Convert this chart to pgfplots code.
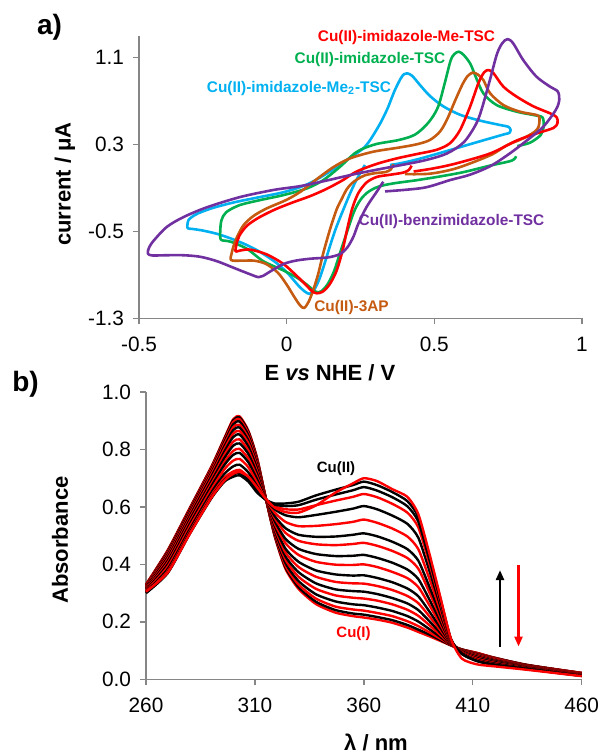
\documentclass[border=0pt]{standalone}
\usepackage{fontspec}
\setmainfont{Liberation Sans}
\usepackage{pgfplots}
\usepackage{pgfplotstable}
\pgfplotsset{compat=1.18}
\usetikzlibrary{arrows.meta}

\definecolor{cvred}{RGB}{255,0,0}
\definecolor{cvgreen}{RGB}{0,176,80}
\definecolor{cvblue}{RGB}{0,176,240}
\definecolor{cvpurple}{RGB}{112,48,160}
\definecolor{cvorange}{RGB}{197,90,17}
\definecolor{axisgray}{RGB}{134,134,134}

% UV-vis spectra recorded during the Cu(II) -> Cu(I) reduction
\pgfplotstableread{
lam a0 a1 a2 a3 a4 a5 a6 a7 a8 a9 a10 a11 a12 a13 a14 a15 a16 s
260 0.300 0.301 0.303 0.305 0.308 0.311 0.314 0.316 0.318 0.321 0.323 0.324 0.326 0.327 0.329 0.329 0.330 0.305
270 0.370 0.373 0.377 0.384 0.392 0.400 0.406 0.413 0.419 0.425 0.430 0.435 0.439 0.443 0.446 0.448 0.450 0.372
280 0.505 0.509 0.513 0.521 0.530 0.539 0.546 0.554 0.560 0.567 0.573 0.578 0.582 0.587 0.591 0.593 0.595 0.505
290 0.630 0.634 0.640 0.650 0.661 0.672 0.680 0.689 0.697 0.706 0.713 0.719 0.725 0.730 0.735 0.738 0.740 0.632
296 0.688 0.694 0.702 0.715 0.731 0.746 0.756 0.770 0.781 0.793 0.802 0.811 0.819 0.826 0.832 0.837 0.840 0.692
300 0.705 0.713 0.723 0.741 0.761 0.781 0.795 0.813 0.827 0.843 0.855 0.867 0.877 0.887 0.895 0.901 0.905 0.715
303 0.710 0.718 0.729 0.747 0.767 0.788 0.802 0.821 0.835 0.852 0.864 0.876 0.886 0.897 0.905 0.911 0.915 0.722
307 0.688 0.695 0.704 0.720 0.738 0.755 0.768 0.784 0.796 0.810 0.821 0.831 0.840 0.849 0.856 0.862 0.865 0.705
311 0.650 0.655 0.661 0.672 0.684 0.696 0.704 0.715 0.723 0.733 0.740 0.747 0.753 0.759 0.764 0.768 0.770 0.668
315 0.625 0.625 0.625 0.626 0.626 0.627 0.627 0.628 0.628 0.628 0.629 0.629 0.629 0.630 0.630 0.630 0.630 0.628
319 0.612 0.608 0.602 0.592 0.581 0.569 0.562 0.552 0.544 0.535 0.528 0.521 0.516 0.510 0.506 0.502 0.500 0.598
324 0.612 0.603 0.592 0.571 0.548 0.526 0.510 0.489 0.474 0.455 0.442 0.428 0.417 0.405 0.396 0.390 0.385 0.582
330 0.618 0.606 0.591 0.564 0.533 0.503 0.482 0.454 0.433 0.409 0.391 0.373 0.357 0.342 0.330 0.321 0.315 0.580
338 0.640 0.625 0.606 0.572 0.534 0.496 0.470 0.436 0.409 0.379 0.357 0.334 0.315 0.296 0.281 0.270 0.262 0.605
347 0.660 0.643 0.622 0.583 0.540 0.497 0.467 0.429 0.399 0.365 0.339 0.313 0.292 0.271 0.253 0.241 0.232 0.650
355 0.676 0.658 0.635 0.594 0.548 0.503 0.471 0.430 0.398 0.361 0.334 0.307 0.284 0.261 0.243 0.229 0.220 0.682
360 0.688 0.669 0.645 0.603 0.556 0.508 0.475 0.433 0.400 0.362 0.333 0.305 0.281 0.258 0.239 0.225 0.215 0.700
366 0.676 0.657 0.634 0.592 0.545 0.498 0.465 0.423 0.391 0.353 0.325 0.297 0.274 0.250 0.231 0.217 0.208 0.690
373 0.652 0.634 0.611 0.570 0.525 0.479 0.447 0.406 0.374 0.338 0.311 0.283 0.261 0.238 0.220 0.206 0.197 0.662
380 0.620 0.602 0.580 0.541 0.497 0.453 0.422 0.382 0.352 0.316 0.290 0.264 0.242 0.220 0.202 0.189 0.180 0.635
385 0.565 0.549 0.529 0.493 0.453 0.413 0.385 0.349 0.321 0.289 0.265 0.241 0.221 0.201 0.185 0.173 0.165 0.575
390 0.430 0.419 0.405 0.380 0.352 0.324 0.304 0.279 0.259 0.237 0.220 0.203 0.189 0.175 0.164 0.156 0.150 0.440
395 0.285 0.279 0.271 0.258 0.243 0.228 0.217 0.204 0.193 0.181 0.172 0.163 0.155 0.148 0.142 0.137 0.134 0.290
400 0.140 0.139 0.138 0.136 0.134 0.132 0.130 0.128 0.127 0.125 0.124 0.122 0.121 0.120 0.119 0.118 0.118 0.140
405 0.088 0.089 0.089 0.091 0.093 0.094 0.095 0.097 0.098 0.099 0.100 0.101 0.102 0.103 0.103 0.104 0.104 0.072
412 0.063 0.064 0.066 0.068 0.071 0.074 0.076 0.079 0.081 0.083 0.085 0.087 0.088 0.089 0.091 0.091 0.092 0.052
420 0.050 0.051 0.052 0.055 0.057 0.060 0.061 0.064 0.065 0.067 0.069 0.070 0.072 0.073 0.074 0.075 0.075 0.045
435 0.035 0.036 0.036 0.038 0.039 0.041 0.042 0.043 0.044 0.045 0.046 0.047 0.048 0.049 0.049 0.050 0.050 0.033
460 0.012 0.012 0.013 0.014 0.015 0.016 0.017 0.017 0.018 0.019 0.020 0.020 0.021 0.021 0.022 0.022 0.022 0.011
}\spectra

\pgfplotsset{
  excelaxis/.style={
    scale only axis,
    axis x line*=bottom,
    axis y line*=left,
    axis line style={draw=axisgray, line width=0.7bp},
    every tick/.style={draw=axisgray, line width=0.7bp},
    major tick length=3bp,
    tick align=outside,
    ticklabel style={font=\fontsize{10.4bp}{12bp}\selectfont, text=black},
    xticklabel style={yshift=-3bp},
    yticklabel style={xshift=-1bp},
    clip=false,
  },
  cv/.style={no marks, smooth, tension=0.5, line width=1.3bp, line join=round},
  sp/.style={no marks, smooth, tension=0.4, line width=1.2bp, line join=round},
}

\newcommand\lbl{\bfseries\fontsize{7.7bp}{9bp}\selectfont}
\newcommand\axlbl{\bfseries\fontsize{11bp}{13bp}\selectfont}

\begin{document}
\begin{tikzpicture}
\useasboundingbox (0bp,0bp) rectangle (301bp,376.5bp);

% ---------- a) cyclic voltammograms ----------
\begin{axis}[excelaxis,
  at={(69.5bp,217.35bp)}, anchor=south west,
  width=221.5bp, height=141.35bp,
  xmin=-0.5, xmax=1, ymin=-1.3, ymax=1.3,
  xtick={-0.5,0,0.5,1}, xticklabels={-0.5,0,0.5,1},
  ytick={-1.3,-0.5,0.3,1.1}, yticklabels={-1.3,-0.5,0.3,1.1},
]
% Cu(II)-imidazole-Me2-TSC
\addplot[cv, cvblue] coordinates {
(0.265,0.110) (0.250,0.040) (0.232,-0.050) (0.215,-0.150) (0.198,-0.260)
(0.180,-0.380) (0.163,-0.500) (0.145,-0.650) (0.128,-0.800) (0.112,-0.930)
(0.097,-1.020) (0.085,-1.065) (0.076,-1.075) (0.062,-1.055) (0.040,-1.000)
(0.000,-0.875) (-0.040,-0.780) (-0.090,-0.690) (-0.140,-0.620) (-0.190,-0.565)
(-0.240,-0.520) (-0.290,-0.490) (-0.320,-0.478) (-0.335,-0.472) (-0.336,-0.440)
(-0.333,-0.400) (-0.322,-0.370) (-0.300,-0.335) (-0.250,-0.285) (-0.180,-0.235)
(-0.100,-0.190) (-0.010,-0.140) (0.068,-0.070) (0.135,0.030) (0.200,0.150)
(0.265,0.278) (0.310,0.460) (0.340,0.620) (0.365,0.790) (0.385,0.900)
(0.397,0.945) (0.408,0.953) (0.425,0.930) (0.450,0.850) (0.485,0.745)
(0.530,0.650) (0.587,0.572) (0.655,0.518) (0.722,0.478) (0.750,0.462)
(0.758,0.435) (0.754,0.405) (0.734,0.390) (0.632,0.310) (0.519,0.220)
(0.440,0.160) (0.384,0.125) (0.350,0.110)};
% Cu(II)-imidazole-TSC
\addplot[cv, cvgreen] coordinates {
(0.777,0.190) (0.762,0.150) (0.690,0.105) (0.600,0.045) (0.520,0.005)
(0.440,-0.030) (0.360,-0.060) (0.310,-0.090) (0.275,-0.140) (0.250,-0.210)
(0.228,-0.320) (0.205,-0.500) (0.183,-0.680) (0.160,-0.870) (0.138,-0.990)
(0.118,-1.050) (0.104,-1.060) (0.090,-1.040) (0.068,-0.990) (0.034,-0.925)
(-0.011,-0.860) (-0.079,-0.775) (-0.135,-0.660) (-0.190,-0.595) (-0.215,-0.585)
(-0.224,-0.570) (-0.225,-0.500) (-0.221,-0.400) (-0.205,-0.325) (-0.160,-0.260)
(-0.090,-0.213) (-0.011,-0.167) (0.068,-0.106) (0.124,-0.029) (0.181,0.094)
(0.237,0.230) (0.300,0.300) (0.380,0.340) (0.435,0.390) (0.480,0.500)
(0.512,0.640) (0.535,0.860) (0.555,1.070) (0.568,1.130) (0.583,1.152)
(0.600,1.120) (0.622,1.040) (0.640,0.922) (0.666,0.769) (0.711,0.661)
(0.779,0.600) (0.835,0.570) (0.866,0.548) (0.870,0.462) (0.860,0.385)
(0.824,0.315) (0.781,0.284)};
% Cu(II)-3AP
\addplot[cv, cvorange] coordinates {
(0.361,0.118) (0.353,0.070) (0.335,0.045) (0.300,0.035) (0.265,0.015)
(0.240,-0.020) (0.220,-0.060) (0.203,-0.115) (0.185,-0.210) (0.169,-0.300)
(0.147,-0.480) (0.124,-0.700) (0.107,-0.890) (0.090,-1.040) (0.074,-1.150)
(0.059,-1.205) (0.045,-1.180) (0.025,-1.100) (0.000,-0.990) (-0.030,-0.880)
(-0.070,-0.800) (-0.110,-0.770) (-0.150,-0.770) (-0.188,-0.765) (-0.186,-0.700)
(-0.178,-0.620) (-0.165,-0.535) (-0.145,-0.440) (-0.113,-0.360) (-0.068,-0.290)
(0.000,-0.210) (0.050,-0.130) (0.102,-0.020) (0.158,0.090) (0.214,0.170)
(0.293,0.232) (0.380,0.270) (0.440,0.300) (0.485,0.340) (0.520,0.420)
(0.545,0.540) (0.570,0.700) (0.595,0.850) (0.612,0.925) (0.630,0.960)
(0.648,0.940) (0.666,0.891) (0.689,0.769) (0.734,0.661) (0.790,0.600)
(0.847,0.569) (0.856,0.539) (0.853,0.462) (0.840,0.416) (0.801,0.355)
(0.745,0.290) (0.690,0.200) (0.575,0.080) (0.485,0.030) (0.400,0.026)};
% Cu(II)-imidazole-Me-TSC
\addplot[cv, cvred] coordinates {
(0.423,0.104) (0.414,0.065) (0.395,0.040) (0.350,0.020) (0.305,0.000)
(0.271,-0.050) (0.243,-0.147) (0.222,-0.290) (0.205,-0.480) (0.188,-0.690)
(0.168,-0.870) (0.145,-0.990) (0.122,-1.055) (0.102,-1.070) (0.085,-1.050)
(0.068,-1.000) (0.034,-0.910) (-0.011,-0.800) (-0.068,-0.712) (-0.124,-0.668)
(-0.160,-0.678) (-0.173,-0.685) (-0.170,-0.620) (-0.160,-0.540) (-0.135,-0.450)
(-0.095,-0.375) (-0.040,-0.300) (0.020,-0.235) (0.079,-0.177) (0.135,-0.110)
(0.190,-0.030) (0.237,0.050) (0.305,0.120) (0.372,0.170) (0.440,0.210)
(0.508,0.250) (0.553,0.310) (0.587,0.431) (0.621,0.646) (0.649,0.861)
(0.668,0.960) (0.683,0.983) (0.700,0.955) (0.734,0.830) (0.779,0.738)
(0.835,0.650) (0.892,0.585) (0.914,0.550) (0.917,0.495) (0.903,0.450)
(0.846,0.400) (0.779,0.335) (0.690,0.217) (0.575,0.125) (0.500,0.080)
(0.430,0.050)};
% Cu(II)-benzimidazole-TSC
\addplot[cv, cvpurple] coordinates {
(0.327,-0.044) (0.305,-0.136) (0.271,-0.274) (0.243,-0.428) (0.226,-0.550)
(0.205,-0.650) (0.180,-0.710) (0.140,-0.740) (0.080,-0.752) (0.030,-0.770)
(-0.010,-0.800) (-0.050,-0.860) (-0.080,-0.910) (-0.095,-0.922) (-0.124,-0.895)
(-0.180,-0.835) (-0.237,-0.774) (-0.293,-0.734) (-0.350,-0.720) (-0.406,-0.720)
(-0.455,-0.722) (-0.470,-0.705) (-0.466,-0.650) (-0.450,-0.585) (-0.406,-0.460)
(-0.350,-0.370) (-0.271,-0.280) (-0.158,-0.185) (-0.045,-0.120) (0.045,-0.085)
(0.124,-0.040) (0.237,0.030) (0.350,0.090) (0.463,0.150) (0.542,0.215)
(0.600,0.320) (0.640,0.480) (0.660,0.620) (0.689,0.900) (0.712,1.130)
(0.730,1.230) (0.748,1.268) (0.767,1.229) (0.801,1.075) (0.846,0.922)
(0.892,0.830) (0.918,0.786) (0.923,0.710) (0.912,0.620) (0.869,0.462)
(0.813,0.335) (0.756,0.217) (0.690,0.100) (0.620,0.020) (0.553,-0.029)
(0.463,-0.100) (0.333,-0.133)};
\end{axis}

% ---------- b) spectra ----------
\begin{axis}[excelaxis,
  at={(73bp,36.85bp)}, anchor=south west,
  width=217.85bp, height=143.65bp,
  xmin=260, xmax=460, ymin=0, ymax=1,
  xtick={260,310,360,410,460}, xticklabels={260,310,360,410,460},
  ytick={0,0.2,0.4,0.6,0.8,1.0}, yticklabels={0.0,0.2,0.4,0.6,0.8,1.0},
]
\addplot[sp, red]   table[x=lam, y=a16] {\spectra};
\addplot[sp, black] table[x=lam, y=a15] {\spectra};
\addplot[sp, red]   table[x=lam, y=a14] {\spectra};
\addplot[sp, black] table[x=lam, y=a13] {\spectra};
\addplot[sp, red]   table[x=lam, y=a12] {\spectra};
\addplot[sp, black] table[x=lam, y=a11] {\spectra};
\addplot[sp, red]   table[x=lam, y=a10] {\spectra};
\addplot[sp, black] table[x=lam, y=a9] {\spectra};
\addplot[sp, red]   table[x=lam, y=a8] {\spectra};
\addplot[sp, black] table[x=lam, y=a7] {\spectra};
\addplot[sp, red]   table[x=lam, y=a6] {\spectra};
\addplot[sp, black] table[x=lam, y=a5] {\spectra};
\addplot[sp, red]   table[x=lam, y=a4] {\spectra};
\addplot[sp, black] table[x=lam, y=a3] {\spectra};
\addplot[sp, red]   table[x=lam, y=a2] {\spectra};
\addplot[sp, black] table[x=lam, y=a1] {\spectra};
\addplot[sp, black] table[x=lam, y=a0] {\spectra};
\addplot[sp, red]   table[x=lam, y=s] {\spectra};
\draw[black, line width=1.2bp, -{Triangle[width=4bp,length=5bp]}] (axis cs:422.5,0.114) -- (axis cs:422.5,0.38);
\draw[red, line width=1.2bp, -{Triangle[width=4bp,length=5bp]}] (axis cs:431,0.398) -- (axis cs:431,0.114);
\end{axis}

% panel letters, axis titles and curve labels
\node[font=\bfseries\fontsize{14bp}{16bp}\selectfont, inner sep=0] at (24.75bp,362.75bp) {a)};
\node[font=\bfseries\fontsize{14bp}{16bp}\selectfont, inner sep=0] at (12.75bp,184.5bp) {b)};
\node[font=\axlbl, inner sep=0] at (165bp,190bp) {E \textit{vs} NHE / V};
\node[font=\axlbl, inner sep=0, rotate=90] at (32.5bp,284.5bp) {current / μA};
\node[font=\axlbl, inner sep=0, rotate=90] at (30bp,106.5bp) {Absorbance};
\node[font=\axlbl, inner sep=0] at (188bp,5.5bp) {λ / nm};

\node[font=\lbl, text=cvred, inner sep=0] at (203.25bp,357.75bp) {Cu(II)-imidazole-Me-TSC};
\node[font=\lbl, text=cvgreen, inner sep=0] at (185bp,346.5bp) {Cu(II)-imidazole-TSC};
\node[font=\lbl, text=cvblue, inner sep=0] at (149.5bp,332.25bp) {Cu(II)-imidazole-Me\textsubscript{2}-TSC};
\node[font=\lbl, text=cvpurple, inner sep=0] at (225.75bp,265.75bp) {Cu(II)-benzimidazole-TSC};
\node[font=\lbl, text=cvorange, inner sep=0] at (175.75bp,222.75bp) {Cu(II)-3AP};
\node[font=\bfseries\fontsize{7.5bp}{9bp}\selectfont, inner sep=0] at (168bp,142bp) {Cu(II)};
\node[font=\bfseries\fontsize{7.5bp}{9bp}\selectfont, text=red, inner sep=0] at (176.75bp,59.5bp) {Cu(I)};
\end{tikzpicture}
\end{document}
